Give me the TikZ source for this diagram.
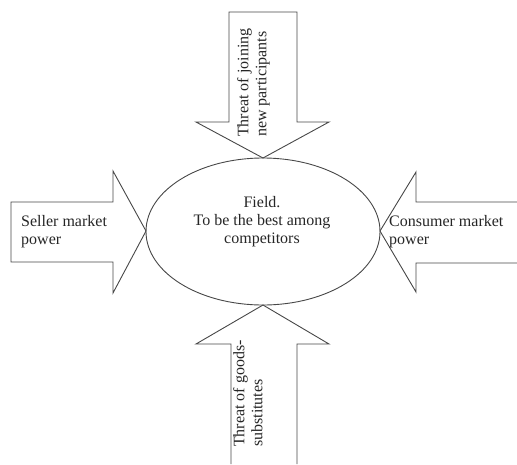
\documentclass[tikz,border=0pt]{standalone}
\usepackage{fontspec}
\setmainfont{Liberation Serif}
\usetikzlibrary{shapes.geometric}
\begin{document}
\begin{tikzpicture}[x=1pt,y=-1pt,
  shape line/.style={draw=black!72, line width=0.9pt, line join=miter},
  lbl/.style={font=\fontsize{16}{18}\selectfont, inner sep=0pt, text=black!85},
]
\useasboundingbox (0,0) rectangle (517,464);
% central ellipse
\node[shape line, ellipse, minimum width=234pt, minimum height=147pt, inner sep=0pt] (field) at (263,231.5) {};
\node[lbl, align=center] (fieldtxt) at (262,222) {Field.\\To be the best among\\competitors};
% top arrow
\draw[shape line] (229,12) -- (297,12) -- (297,122) -- (329,122) -- (263,158) -- (196,122) -- (229,122) -- cycle;
\node[lbl, rotate=90, align=left, anchor=north west] (toptxt) at (237,137) {Threat of joining\\new participants};
% bottom arrow
\draw[shape line] (231,464) -- (231,344) -- (196,344) -- (263,305) -- (329,344) -- (297,344) -- (297,464);
\node[lbl, rotate=90, align=left, anchor=north west] (bottxt) at (233,447) {Threat of goods-\\substitutes};
% left arrow
\draw[shape line] (11,202) -- (113,202) -- (113,171) -- (146,231) -- (113,293) -- (113,262) -- (11,262) -- cycle;
\node[lbl, align=left, anchor=west] (lefttxt) at (21,232) {Seller market\\power};
% right arrow
\draw[shape line] (517,202) -- (416,202) -- (416,172) -- (380,231) -- (416,292) -- (416,263) -- (517,263);
\node[lbl, align=left, anchor=west] (righttxt) at (389,232) {Consumer market\\power};
\end{tikzpicture}
\end{document}
